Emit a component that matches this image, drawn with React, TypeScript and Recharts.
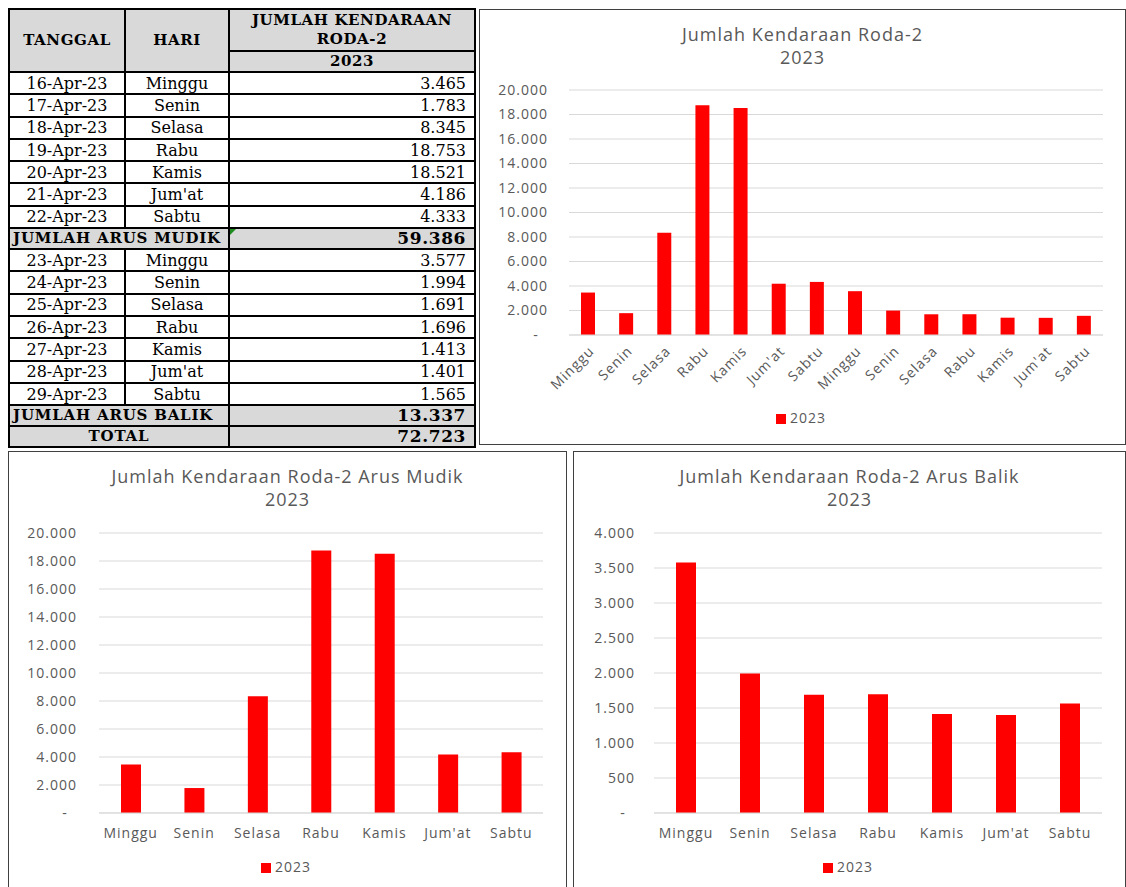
import React from "react";
import { BarChart, Bar, XAxis, YAxis, CartesianGrid, Legend } from "recharts";

const HARI = ["Minggu", "Senin", "Selasa", "Rabu", "Kamis", "Jum'at", "Sabtu"];
const TANGGAL_MUDIK = ["16-Apr-23", "17-Apr-23", "18-Apr-23", "19-Apr-23", "20-Apr-23", "21-Apr-23", "22-Apr-23"];
const TANGGAL_BALIK = ["23-Apr-23", "24-Apr-23", "25-Apr-23", "26-Apr-23", "27-Apr-23", "28-Apr-23", "29-Apr-23"];
const MUDIK = [3465, 1783, 8345, 18753, 18521, 4186, 4333];
const BALIK = [3577, 1994, 1691, 1696, 1413, 1401, 1565];
const TICKS_20K = [0, 2000, 4000, 6000, 8000, 10000, 12000, 14000, 16000, 18000, 20000];
const TICKS_4K = [0, 500, 1000, 1500, 2000, 2500, 3000, 3500, 4000];
const SERIES = "2023";

const RED = "#FF0000";
const GRID = "#D9D9D9";
const TEXT = "#595959";
const CHART_FONT = "'Open Sans', sans-serif";
const TABLE_FONT = "'DejaVu Serif', 'Liberation Serif', serif";

const fmt = (n: number) => String(n).replace(/\B(?=(\d{3})+(?!\d))/g, ".");
const fmtAxis = (n: number) => (n === 0 ? "-\u00a0\u00a0" : fmt(n));
const sum = (a: number[]) => a.reduce((s, v) => s + v, 0);

const allData = [
  ...MUDIK.map((v, i) => ({ key: `m${i}`, hari: HARI[i], value: v })),
  ...BALIK.map((v, i) => ({ key: `b${i}`, hari: HARI[i], value: v })),
];
const mudikData = MUDIK.map((v, i) => ({ key: `m${i}`, hari: HARI[i], value: v }));
const balikData = BALIK.map((v, i) => ({ key: `b${i}`, hari: HARI[i], value: v }));

interface ChartBoxProps {
  left: number;
  top: number;
  width: number;
  height: number;
  title: string;
  data: { key: string; hari: string; value: number }[];
  ticks: number[];
  margin: { top: number; right: number; bottom: number; left: number };
  yWidth: number;
  yTickMargin: number;
  xHeight: number;
  barSize: number;
  rotated?: boolean;
  legendTop: number;
}

function ChartBox(p: ChartBoxProps) {
  const w = p.width - 2;
  const h = p.height - 2;
  return (
    <div
      style={{
        position: "absolute",
        left: p.left,
        top: p.top,
        width: p.width,
        height: p.height,
        border: "1px solid #404040",
        boxSizing: "border-box",
        background: "#fff",
        fontFamily: CHART_FONT,
        letterSpacing: "1px",
        overflow: "hidden",
      }}
    >
      <div
        style={{
          position: "absolute",
          top: 13,
          left: 0,
          width: "100%",
          textAlign: "center",
          fontSize: 18,
          lineHeight: "23px",
          color: TEXT,
        }}
      >
        {p.title}
        <br />
        {SERIES}
      </div>
      <BarChart width={w} height={h} data={p.data} margin={p.margin}>
        <CartesianGrid vertical={false} stroke={GRID} />
        <XAxis
          dataKey="key"
          tickFormatter={(_: string, i: number) => p.data[i]?.hari ?? ""}
          interval={0}
          tickLine={false}
          axisLine={{ stroke: GRID }}
          height={p.xHeight}
          tickMargin={p.rotated ? 4 : 9}
          tick={
            p.rotated
              ? { fill: TEXT, fontSize: 14, angle: -45, textAnchor: "end" }
              : { fill: TEXT, fontSize: 14 }
          }
        />
        <YAxis
          domain={[0, p.ticks[p.ticks.length - 1]]}
          ticks={p.ticks}
          tickFormatter={fmtAxis}
          width={p.yWidth}
          tickLine={false}
          axisLine={false}
          tickMargin={p.yTickMargin}
          tick={{ fill: TEXT, fontSize: 14 }}
        />
        <Legend
          verticalAlign="middle"
          iconType="square"
          iconSize={10}
          wrapperStyle={{ top: p.legendTop }}
          formatter={(v: string) => <span style={{ color: TEXT, fontSize: 14 }}>{v}</span>}
        />
        <Bar dataKey="value" name={SERIES} fill={RED} barSize={p.barSize} isAnimationActive={false} />
      </BarChart>
    </div>
  );
}

const cellBase: React.CSSProperties = {
  border: "2px solid #000",
  padding: 0,
  fontSize: 16,
  color: "#000",
};
const headCell: React.CSSProperties = {
  ...cellBase,
  background: "#D9D9D9",
  fontWeight: "bold",
  fontSize: 15,
  letterSpacing: "0.6px",
  textAlign: "center",
  lineHeight: "19px",
};
const numCell: React.CSSProperties = { ...cellBase, textAlign: "right", paddingRight: 8 };
const sumLabel: React.CSSProperties = { ...headCell, fontSize: 15, letterSpacing: "0.8px" };
const sumNum: React.CSSProperties = { ...headCell, fontSize: 17, textAlign: "right", paddingRight: 8 };

function DataRows({ dates, values }: { dates: string[]; values: number[] }) {
  return (
    <>
      {values.map((v, i) => (
        <tr key={dates[i]} style={{ height: 22.3 }}>
          <td style={{ ...cellBase, textAlign: "center" }}>{dates[i]}</td>
          <td style={{ ...cellBase, textAlign: "center" }}>{HARI[i]}</td>
          <td style={numCell}>{fmt(v)}</td>
        </tr>
      ))}
    </>
  );
}

function DataTable() {
  return (
    <table
      style={{
        position: "absolute",
        left: 8,
        top: 8,
        width: 466,
        borderCollapse: "collapse",
        tableLayout: "fixed",
        fontFamily: TABLE_FONT,
        background: "#fff",
      }}
    >
      <colgroup>
        <col style={{ width: 116 }} />
        <col style={{ width: 104 }} />
        <col style={{ width: 246 }} />
      </colgroup>
      <tbody>
        <tr style={{ height: 42 }}>
          <td rowSpan={2} style={headCell}>TANGGAL</td>
          <td rowSpan={2} style={headCell}>HARI</td>
          <td style={headCell}>
            JUMLAH KENDARAAN
            <br />
            RODA-2
          </td>
        </tr>
        <tr style={{ height: 20 }}>
          <td style={headCell}>{SERIES}</td>
        </tr>
        <DataRows dates={TANGGAL_MUDIK} values={MUDIK} />
        <tr style={{ height: 21 }}>
          <td colSpan={2} style={{ ...sumLabel, textAlign: "left", paddingLeft: 3 }}>JUMLAH ARUS MUDIK</td>
          <td style={{ ...sumNum, position: "relative" }}>
            <span
              style={{
                position: "absolute",
                left: 0,
                top: 0,
                width: 0,
                height: 0,
                borderTop: "6px solid #1E8C1E",
                borderRight: "6px solid transparent",
              }}
            />
            {fmt(sum(MUDIK))}
          </td>
        </tr>
        <DataRows dates={TANGGAL_BALIK} values={BALIK} />
        <tr style={{ height: 21 }}>
          <td colSpan={2} style={{ ...sumLabel, textAlign: "left", paddingLeft: 3 }}>JUMLAH ARUS BALIK</td>
          <td style={sumNum}>{fmt(sum(BALIK))}</td>
        </tr>
        <tr style={{ height: 21 }}>
          <td colSpan={2} style={sumLabel}>TOTAL</td>
          <td style={sumNum}>{fmt(sum(MUDIK) + sum(BALIK))}</td>
        </tr>
      </tbody>
    </table>
  );
}

export default function App() {
  return (
    <div style={{ position: "absolute", left: 0, top: 0, width: 1126, height: 887, background: "#fff", overflow: "hidden" }}>
      <DataTable />
      <ChartBox
        left={479}
        top={9}
        width={647}
        height={436}
        title="Jumlah Kendaraan Roda-2"
        data={allData}
        ticks={TICKS_20K}
        margin={{ top: 80, right: 22, bottom: 39, left: 29 }}
        yWidth={60}
        yTickMargin={15}
        xHeight={70}
        barSize={14}
        rotated
        legendTop={396}
      />
      <ChartBox
        left={8}
        top={451}
        width={559}
        height={440}
        title="Jumlah Kendaraan Roda-2 Arus Mudik"
        data={mudikData}
        ticks={TICKS_20K}
        margin={{ top: 81, right: 23, bottom: 37, left: 30 }}
        yWidth={60}
        yTickMargin={16}
        xHeight={40}
        barSize={20}
        legendTop={403}
      />
      <ChartBox
        left={573}
        top={451}
        width={553}
        height={440}
        title="Jumlah Kendaraan Roda-2 Arus Balik"
        data={balikData}
        ticks={TICKS_4K}
        margin={{ top: 81, right: 23, bottom: 37, left: 30 }}
        yWidth={50}
        yTickMargin={13}
        xHeight={40}
        barSize={20}
        legendTop={403}
      />
    </div>
  );
}
